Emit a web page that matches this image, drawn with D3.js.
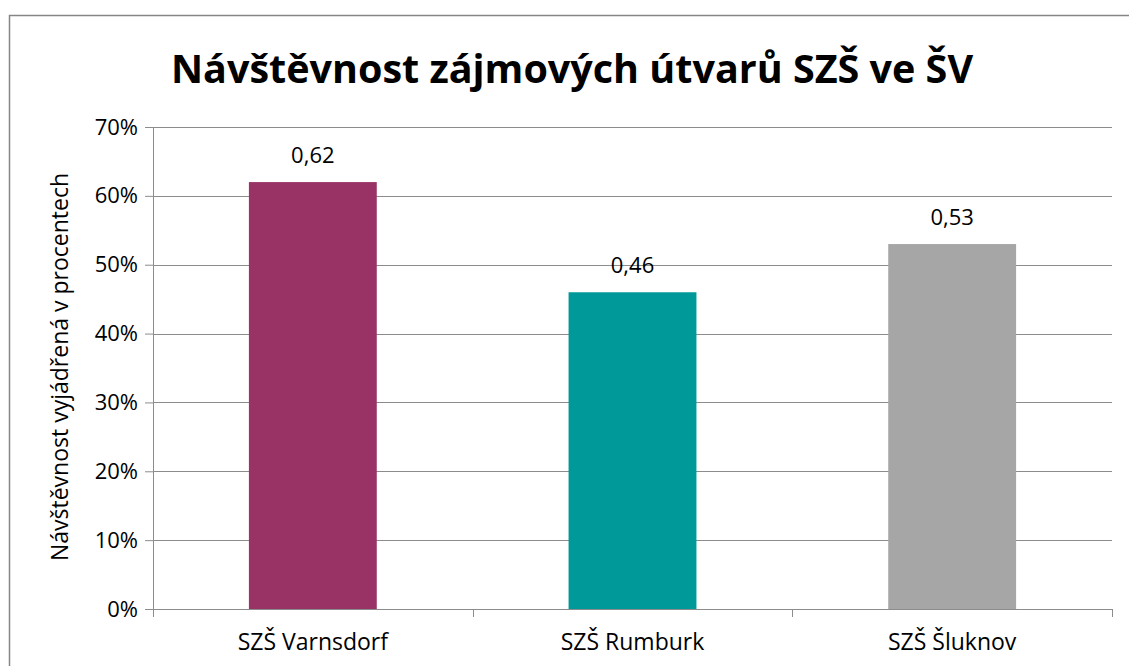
<!DOCTYPE html>
<html>
<head>
<meta charset="utf-8">
<script src="https://cdn.jsdelivr.net/npm/d3@7"></script>
<style>
  body { margin: 0; background: #fff; }
  svg { display: block; font-family: "Open Sans", sans-serif; }
</style>
</head>
<body>
<div id="chart"></div>
<script>
const categories = ["SZŠ Varnsdorf", "SZŠ Rumburk", "SZŠ Šluknov"];
const values = [0.62, 0.46, 0.53];
const valueLabels = ["0,62", "0,46", "0,53"];
const colors = ["#993366", "#009999", "#a6a6a6"];
const yTicks = [0, 0.1, 0.2, 0.3, 0.4, 0.5, 0.6, 0.7];

const width = 1129;
const height = 666;
const svg = d3.select("#chart").append("svg")
  .attr("width", width)
  .attr("height", height);

// outer chart frame
svg.append("rect")
  .attr("x", 9.5).attr("y", 15.5)
  .attr("width", 1130).attr("height", 670)
  .attr("fill", "none")
  .attr("stroke", "#868686")
  .attr("stroke-width", 1.5);

const margin = { top: 127, right: 17, bottom: 57, left: 153 };
const chartWidth = width - margin.left - margin.right;
const chartHeight = height - margin.top - margin.bottom;

const x = d3.scaleBand()
  .domain(categories)
  .range([0, chartWidth])
  .paddingInner(0.6)
  .paddingOuter(0.3);

const xOuter = d3.scaleBand()
  .domain(categories)
  .range([0, chartWidth]);

const y = d3.scaleLinear()
  .domain([0, 0.7])
  .range([chartHeight, 0]);

const chart = svg.append("g")
  .attr("transform", `translate(${margin.left},${margin.top})`);

// gridlines
chart.append("g")
  .selectAll("line")
  .data(yTicks.slice(1))
  .enter()
  .append("line")
  .attr("x1", 0).attr("x2", chartWidth)
  .attr("y1", d => Math.round(y(d)) + 0.5)
  .attr("y2", d => Math.round(y(d)) + 0.5)
  .attr("stroke", "#8c8c8c")
  .attr("stroke-width", 1);

// bars
chart.append("g")
  .selectAll("rect")
  .data(values)
  .enter()
  .append("rect")
  .attr("x", (d, i) => x(categories[i]))
  .attr("y", d => y(d))
  .attr("width", x.bandwidth())
  .attr("height", d => chartHeight - y(d))
  .attr("fill", (d, i) => colors[i]);

// value labels
chart.append("g")
  .selectAll("text")
  .data(values)
  .enter()
  .append("text")
  .attr("x", (d, i) => x(categories[i]) + x.bandwidth() / 2)
  .attr("y", d => y(d) - 19)
  .attr("text-anchor", "middle")
  .attr("font-size", 22)
  .attr("fill", "#000")
  .text((d, i) => valueLabels[i]);

// y axis
const yAxis = chart.append("g")
  .call(d3.axisLeft(y)
    .tickValues(yTicks)
    .tickSize(8)
    .tickPadding(7)
    .tickFormat(d3.format(".0%")));
yAxis.selectAll("line, path").attr("stroke", "#8c8c8c");
yAxis.select(".domain").attr("d", `M0.5,0V${chartHeight}`);
yAxis.selectAll("text")
  .attr("font-size", 22)
  .attr("font-family", "'Open Sans', sans-serif")
  .attr("fill", "#000");

// x axis
const xAxisG = chart.append("g")
  .attr("transform", `translate(0,${chartHeight})`);
xAxisG.append("line")
  .attr("x1", 0).attr("x2", chartWidth)
  .attr("y1", 0.5).attr("y2", 0.5)
  .attr("stroke", "#8c8c8c");
xAxisG.selectAll(".xtick")
  .data(categories.concat(["end"]))
  .enter()
  .append("line")
  .attr("x1", (d, i) => Math.round(i * xOuter.step()) + 0.5)
  .attr("x2", (d, i) => Math.round(i * xOuter.step()) + 0.5)
  .attr("y1", 0).attr("y2", 8)
  .attr("stroke", "#8c8c8c");
xAxisG.selectAll(".xlabel")
  .data(categories)
  .enter()
  .append("text")
  .attr("x", d => xOuter(d) + xOuter.bandwidth() / 2)
  .attr("y", 41)
  .attr("text-anchor", "middle")
  .attr("font-size", 23)
  .text(d => d);

// y axis title
svg.append("text")
  .attr("transform", "translate(68,367) rotate(-90)")
  .attr("text-anchor", "middle")
  .attr("font-size", 23)
  .text("Návštěvnost vyjádřená v procentech");

// chart title
svg.append("text")
  .attr("x", 572)
  .attr("y", 83)
  .attr("text-anchor", "middle")
  .attr("font-size", 39.5)
  .attr("font-weight", "bold")
  .text("Návštěvnost zájmových útvarů SZŠ ve ŠV");
</script>
</body>
</html>
